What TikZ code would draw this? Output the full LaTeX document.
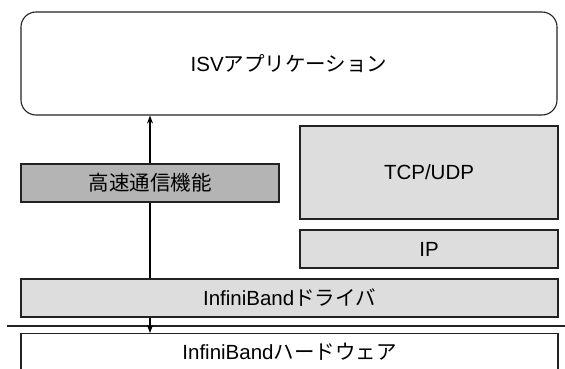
\documentclass[tikz,border=0pt]{standalone}
\usepackage{fontspec}
\setmainfont{Liberation Sans}
\newfontfamily\cjk{Noto Sans CJK JP}
\usetikzlibrary{arrows.meta}
\definecolor{lightfill}{HTML}{DDDDDD}
\definecolor{darkfill}{HTML}{B4B4B4}
\definecolor{edge}{HTML}{222222}
\tikzset{
  layer/.style={draw=edge, line width=1.1pt, inner sep=0pt, font=\fontsize{20.5}{24}\selectfont},
  conn/.style={line width=1.3pt, draw=black, -{Stealth[length=8pt,width=6pt]}},
}
\begin{document}
\begin{tikzpicture}[x=1pt,y=-1pt]
\useasboundingbox (0,0) rectangle (565,369);
\clip (0,0) rectangle (565,369);
\node[layer, rounded corners=15pt, minimum width=536pt, minimum height=103pt] (app) at (289,63.5) {ISV{\cjk アプリケーション}};
\node[layer, fill=darkfill, minimum width=258pt, minimum height=38pt] (hs) at (150,183) {\cjk 高速通信機能};
\node[layer, fill=lightfill, minimum width=258pt, minimum height=93pt] (tcp) at (429,172.5) {TCP/UDP};
\node[layer, fill=lightfill, minimum width=258pt, minimum height=38pt] (ip) at (429,249) {IP};
\node[layer, fill=lightfill, minimum width=537pt, minimum height=38pt] (drv) at (289.5,298) {InfiniBand{\cjk ドライバ}};
\node[layer, minimum width=537pt, minimum height=60pt, anchor=north] (hw) at (289.5,333) {};
\node[font=\fontsize{20.5}{24}\selectfont] (hwtext) at (289.5,352) {InfiniBand{\cjk ハードウェア}};
\coordinate (l1) at (7,326);
\coordinate (l2) at (565,326);
\draw[line width=1.1pt, draw=edge] (l1) -- (l2);
\draw[line width=1.3pt] (drv.north -| hs.south) -- (hs.south);
\draw[conn] (hs.north) -- (app.south -| hs.north);
\draw[conn] (drv.south -| hs.south) -- (hw.north -| hs.south);
\end{tikzpicture}
\end{document}
